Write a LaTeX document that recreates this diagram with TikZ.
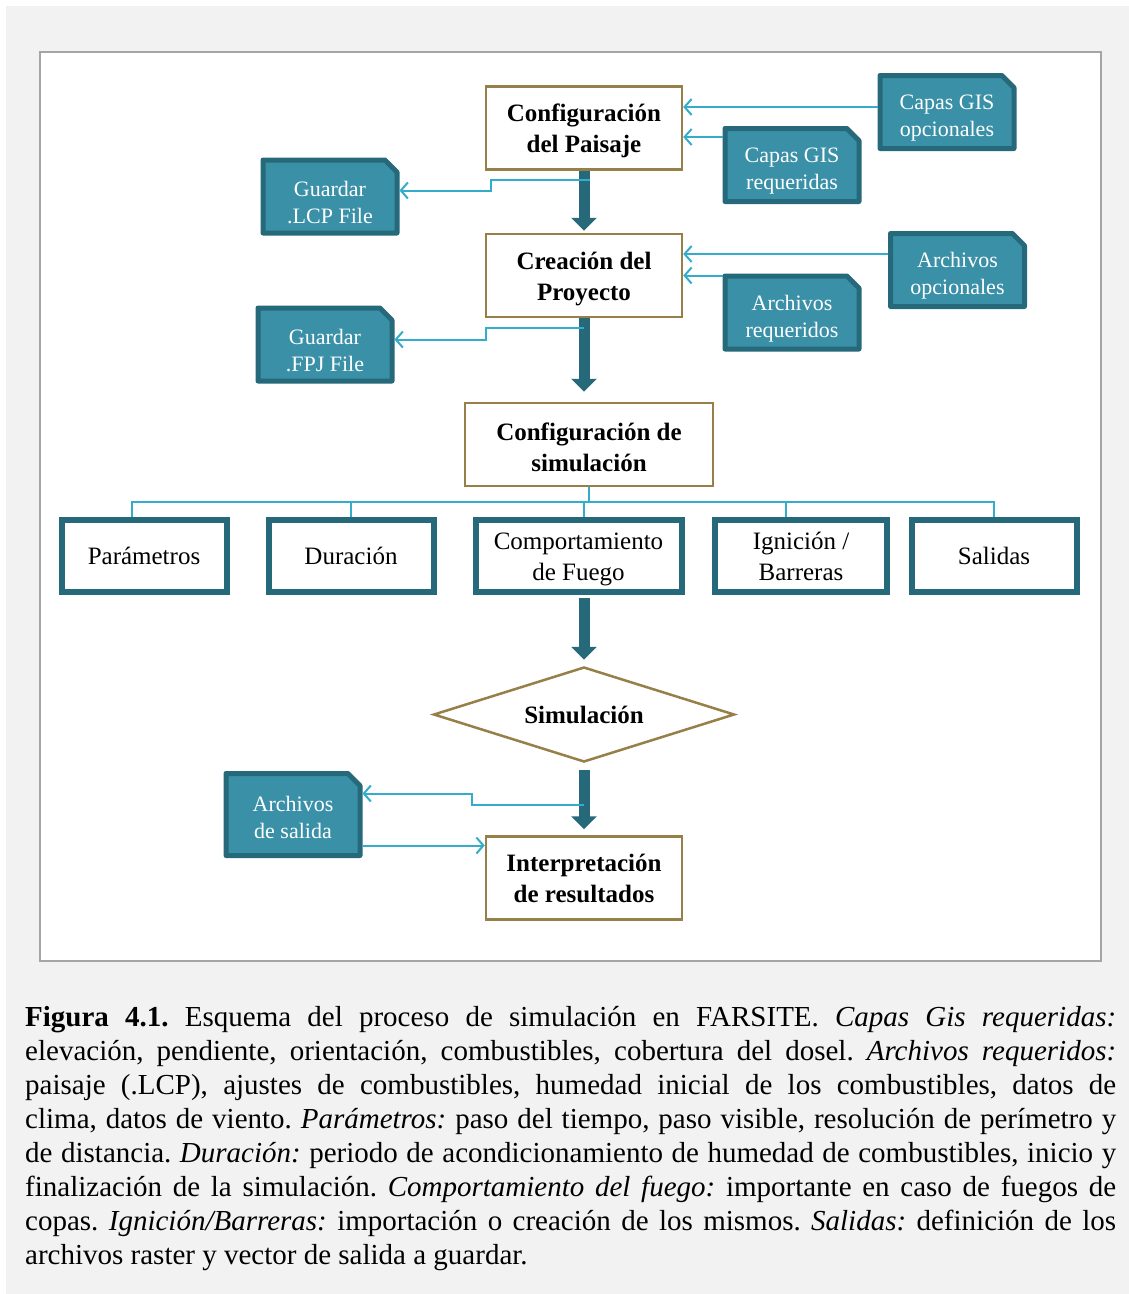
\documentclass[tikz,border=0pt]{standalone}
\usepackage{fontspec}
\setmainfont{Liberation Serif}
\usetikzlibrary{arrows.meta,shapes.geometric,shapes.misc}
\hyphenpenalty=10000
\exhyphenpenalty=10000
\frenchspacing

\definecolor{fondo}{RGB}{242,242,242}
\definecolor{marco}{RGB}{165,165,165}
\definecolor{oro}{RGB}{150,127,72}
\definecolor{petroleo}{RGB}{38,105,122}
\definecolor{turquesa}{RGB}{58,144,167}
\definecolor{celeste}{RGB}{52,172,204}

\begin{document}
\begin{tikzpicture}[x=1pt,y=-1pt,
                      paso/.style={draw=oro,line width=2.5pt,fill=white,align=center,inner sep=2pt,
                        font=\fontsize{25}{31}\selectfont\bfseries,minimum width=196pt,minimum height=83pt},
                      archivo/.style={chamfered rectangle,chamfered rectangle corners=north east,
                        chamfered rectangle xsep=9pt,draw=petroleo,line width=5pt,line join=round,
                        fill=turquesa,text=white,align=center,inner sep=0pt,
                        font=\fontsize{22}{27}\selectfont,minimum width=134pt,minimum height=73pt},
                      opcion/.style={draw=petroleo,line width=6pt,fill=white,align=center,inner sep=0pt,
                        font=\fontsize{25}{31}\selectfont,minimum height=72pt},
                      enlace/.style={draw=celeste,line width=2pt,-{Straight Barb[length=7pt,width=16pt]}},
                      flecha/.style={draw=petroleo,line width=11pt,-{Triangle[length=13pt,width=25pt]}}]
                      \fill[white] (0,0) rectangle (1129,1294);
                      \fill[fondo] (6,6) rectangle (1129,1294);
                      \draw[marco,fill=white,line width=1.2pt] (40,52) rectangle (1101,961);
                      \node[paso](paisaje)at(584,128){\rule{0pt}{24pt}Configuración\\del Paisaje};
                      \node[paso](proyecto)at(584,275.5){\rule{0pt}{25pt}Creación del\\Proyecto};
                      \node[paso,minimum width=248pt](confsim)at(589,444.5){\rule{0pt}{23pt}Configuración de\\simulación};
                      \node[paso](interp)at(584,878){Interpretación\\de resultados};
                      \node[diamond,draw=oro,line width=2.5pt,fill=white,inner sep=0pt,aspect=3,
                        minimum width=301pt,minimum height=95pt,font=\fontsize{25}{31}\selectfont\bfseries](simul)at(584,714.5){Simulación};
                      \node[archivo](gisopc)at(947,112){\rule{0pt}{27pt}Capas GIS\\opcionales};
                      \node[archivo](gisreq)at(792,165){\rule{0pt}{27pt}Capas GIS\\requeridas};
                      \node[archivo](guardlcp)at(330,196.5){\rule{0pt}{27pt}Guardar\\.LCP File};
                      \node[archivo](arcopc)at(957.5,270){\rule{0pt}{27pt}Archivos\\opcionales};
                      \node[archivo](arcreq)at(792,312.5){\rule{0pt}{27pt}Archivos\\requeridos};
                      \node[archivo](guardfpj)at(325,344.5){\rule{0pt}{27pt}Guardar\\.FPJ File};
                      \node[archivo,minimum height=82pt](salida)at(293,814.5){\rule{0pt}{21pt}Archivos\\de salida};
                      \node[opcion,minimum width=165pt](param)at(144,556){Parámetros};
                      \node[opcion,minimum width=165pt](durac)at(351,556){Duración};
                      \node[opcion,minimum width=206pt](comport)at(578.5,556){\rule{0pt}{24pt}Comportamiento\\de Fuego};
                      \node[opcion,minimum width=172pt](ignic)at(801,556){Ignición /\\Barreras};
                      \node[opcion,minimum width=165pt](salidas)at(994,556){Salidas};
                      \draw[flecha] (paisaje.south) -- ([yshift=2pt]proyecto.north);
                      \draw[flecha] (proyecto.south) -- ([yshift=10pt]proyecto.south |- confsim.north);
                      \draw[flecha] ([yshift=-3pt]simul.north |- comport.south) -- ([yshift=6pt]simul.north);
                      \draw[flecha] ([yshift=-7pt]simul.south) -- ([yshift=6pt]interp.north);
                      \foreach \caja/\dx in {param/-12,durac/0,comport/5.5,ignic/-15,salidas/0}
                        \draw[celeste,line width=2pt] (confsim.south) -- ++(0,15) -| ([xshift=\dx pt]\caja.north);
                      \draw[enlace] ([yshift=5pt]gisopc.west) -- ([yshift=5pt]gisopc.west -| paisaje.east);
                      \draw[enlace] ([yshift=28pt]gisreq.west) -- ([yshift=28pt]gisreq.west -| paisaje.east);
                      \draw[enlace] ([yshift=16pt]arcopc.west) -- ([yshift=16pt]arcopc.west -| proyecto.east);
                      \draw[enlace] ([yshift=37pt]arcreq.west) -- ([yshift=37pt]arcreq.west -| proyecto.east);
                      \draw[enlace] ([xshift=6pt,yshift=-9pt]paisaje.south) -- ++(-99,0) |- ([yshift=6pt]guardlcp.east);
                      \draw[enlace] ([yshift=-10pt]proyecto.south) -- ++(-98,0) |- ([yshift=5pt]guardfpj.east);
                      \draw[enlace] ([yshift=-42pt]simul.south) -- ++(-112,0) |- ([yshift=21pt]salida.east);
                      \draw[enlace] ([yshift=-31pt]salida.east) -- ([yshift=-31pt]salida.east -| interp.west);
                      \node[text width=1091pt,align=justify,anchor=base west,inner sep=0pt,
                        font=\fontsize{29}{34}\selectfont](pie)at(25,1026){\textbf{Figura 4.1.} Esquema del proceso de simulación en FARSITE. \textit{Capas Gis requeridas:}\linebreak elevación, pendiente, orientación, combustibles, cobertura del dosel. \textit{Archivos requeridos:}\linebreak paisaje (.LCP), ajustes de combustibles, humedad inicial de los combustibles, datos de\linebreak clima, datos de viento. \textit{Parámetros:} paso del tiempo, paso visible, resolución de perímetro y\linebreak de distancia. \textit{Duración:} periodo de acondicionamiento de humedad de combustibles, inicio y\linebreak finalización de la simulación. \textit{Comportamiento del fuego:} importante en caso de fuegos de\linebreak copas. \textit{Ignición/Barreras:} importación o creación de los mismos. \textit{Salidas:} definición de los\linebreak archivos raster y vector de salida a guardar.};
                  \end{tikzpicture}
\end{document}
